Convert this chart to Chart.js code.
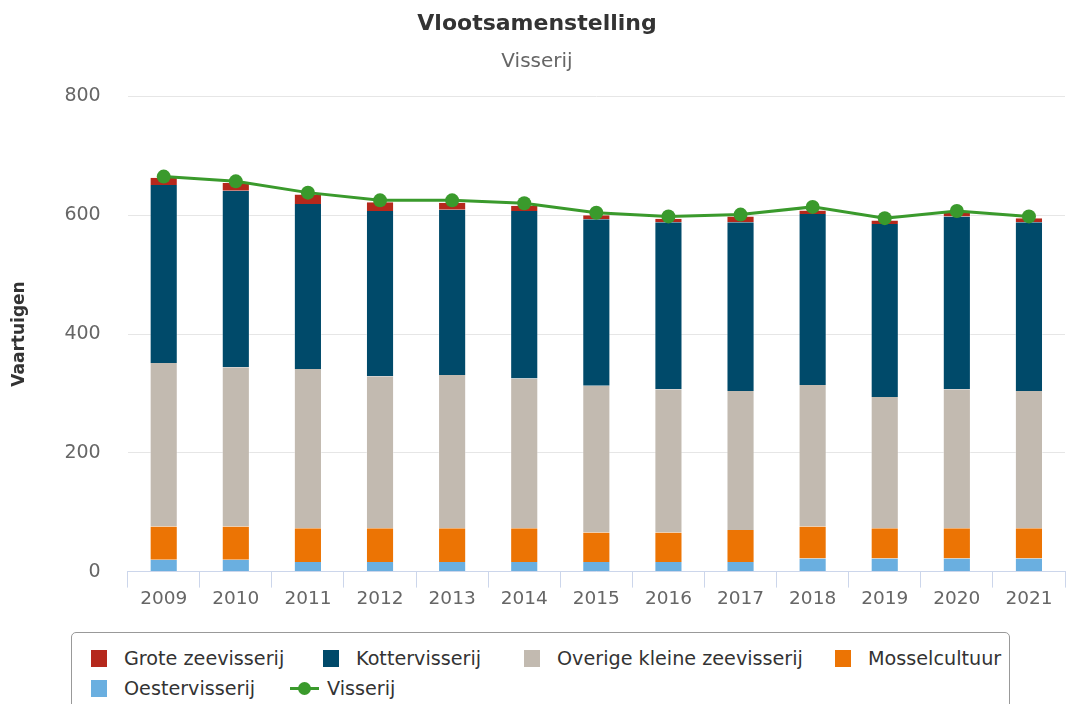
<!DOCTYPE html>
<html>
<head>
<meta charset="utf-8">
<script src="https://cdn.jsdelivr.net/npm/chart.js@4.4.1/dist/chart.umd.min.js"></script>
<style>
  body { margin: 0; background: #fff; font-family: "DejaVu Sans", Verdana, sans-serif; }
  #wrap { position: relative; width: 1073px; height: 704px; overflow: hidden; }
  #chart { position: absolute; left: 0; top: 0; }
  #legend {
    position: absolute; left: 71px; top: 632px; width: 939px; height: 90px;
    border: 1px solid #999; border-radius: 5px; box-sizing: border-box;
    font-size: 19.2px; color: #333;
  }
  .item { position: absolute; display: flex; align-items: center; height: 20px; white-space: nowrap; }
  .box { width: 16px; height: 17px; margin-right: 17px; }
  .sym { position: relative; width: 29px; height: 17px; margin-right: 8px; }
  .sym .ln { position: absolute; left: 0; right: 0; top: 7px; height: 3px; }
  .sym .dot { position: absolute; left: 8px; top: 2px; width: 13px; height: 13px; border-radius: 50%; }
</style>
</head>
<body>
<div id="wrap">
  <canvas id="chart" width="1073" height="610"></canvas>
  <div id="legend"></div>
</div>
<script>
const years = ["2009", "2010", "2011", "2012", "2013", "2014", "2015", "2016", "2017", "2018", "2019", "2020", "2021"];

const groteZeevisserij = [12, 13, 16, 15, 12, 9, 7, 6, 10, 6, 6, 6, 7];
const kottervisserij = [300, 297, 278, 278, 278, 282, 280, 281, 284, 288, 291, 291, 284];
const overigeKleine = [275, 268, 268, 256, 258, 252, 247, 241, 234, 238, 221, 234, 231];
const mosselcultuur = [56, 56, 57, 57, 57, 57, 50, 50, 54, 54, 51, 51, 51];
const oestervisserij = [20, 20, 16, 16, 16, 16, 16, 16, 16, 22, 22, 22, 22];
const visserij = [665, 657, 638, 625, 625, 620, 604, 598, 601, 614, 595, 607, 598];

const yTicks = [0, 200, 400, 600, 800];

const font = "'DejaVu Sans', Verdana, sans-serif";

function barSet(label, data, color) {
  return {
    type: "bar",
    label,
    data,
    backgroundColor: color,
    borderColor: "rgba(255,255,255,0.35)",
    borderWidth: { left: 1, right: 1 },
    stack: "vloot",
    barPercentage: 0.39,
    categoryPercentage: 1,
    order: 2
  };
}

const ctx = document.getElementById("chart").getContext("2d");

// bars stack bottom-up in dataset order
const chart = new Chart(ctx, {
  data: {
    labels: years,
    datasets: [
      {
        type: "line",
        label: "Visserij",
        data: visserij,
        borderColor: "#3a9a2c",
        backgroundColor: "#3a9a2c",
        borderWidth: 3,
        pointRadius: 7,
        pointHoverRadius: 7,
        pointBorderWidth: 0,
        tension: 0,
        stack: "totaal",
        order: 0
      },
      barSet("Oestervisserij", oestervisserij, "#6aafe0"),
      barSet("Mosselcultuur", mosselcultuur, "#ec7404"),
      barSet("Overige kleine zeevisserij", overigeKleine, "#c2bab0"),
      barSet("Kottervisserij", kottervisserij, "#004a6a"),
      barSet("Grote zeevisserij", groteZeevisserij, "#b5281c")
    ]
  },
  options: {
    responsive: false,
    animation: false,
    layout: { padding: { left: 9, right: 8, top: 8, bottom: 0 } },
    plugins: {
      legend: { display: false },
      tooltip: { enabled: false },
      title: {
        display: true,
        text: "Vlootsamenstelling",
        color: "#333333",
        font: { family: font, size: 22, weight: "bold" },
        padding: { top: 3, bottom: 12 }
      },
      subtitle: {
        display: true,
        text: "Visserij",
        color: "#666666",
        font: { family: font, size: 20 },
        padding: { top: 0, bottom: 23 }
      }
    },
    scales: {
      x: {
        stacked: true,
        offset: true,
        grid: {
          offset: true,
          drawOnChartArea: false,
          drawTicks: true,
          tickLength: 16,
          color: "#ccd6eb"
        },
        border: { display: true, color: "#ccd6eb", width: 1 },
        ticks: {
          color: "#666666",
          font: { family: font, size: 18.5 },
          padding: 0
        }
      },
      y: {
        stacked: true,
        min: 0,
        max: 800,
        afterBuildTicks: axis => { axis.ticks = yTicks.map(v => ({ value: v })); },
        grid: { color: "#e6e6e6", drawTicks: false, lineWidth: 1 },
        border: { display: false },
        ticks: {
          color: "#666666",
          font: { family: font, size: 19 },
          padding: 27
        },
        title: {
          display: true,
          text: "Vaartuigen",
          color: "#333333",
          font: { family: font, size: 17, weight: "bold" },
          padding: { top: 0, bottom: 8 }
        }
      }
    }
  }
});

// html legend in the same order as the reference
const legendOrder = [
  ["Grote zeevisserij", 0, 0],
  ["Kottervisserij", 0, 232],
  ["Overige kleine zeevisserij", 0, 433],
  ["Mosselcultuur", 0, 744],
  ["Oestervisserij", 1, 0],
  ["Visserij", 1, 199]
];
const legend = document.getElementById("legend");
legendOrder.forEach(([name, row, left]) => {
  const ds = chart.data.datasets.find(d => d.label === name);
  const item = document.createElement("div");
  item.className = "item";
  item.style.left = (19 + left) + "px";
  item.style.top = (15 + row * 30) + "px";
  if (ds.type === "line") {
    item.innerHTML = `<div class="sym"><div class="ln" style="background:${ds.borderColor}"></div><div class="dot" style="background:${ds.borderColor}"></div></div>${name}`;
  } else {
    item.innerHTML = `<div class="box" style="background:${ds.backgroundColor}"></div>${name}`;
  }
  legend.appendChild(item);
});
</script>
</body>
</html>
